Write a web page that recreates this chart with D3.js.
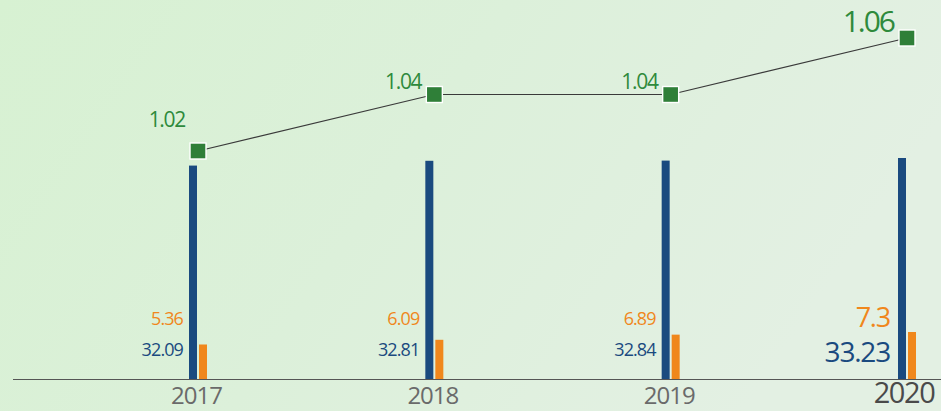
<!DOCTYPE html>
<html>
<head>
<meta charset="utf-8">
<script src="https://cdn.jsdelivr.net/npm/d3@7"></script>
<style>
html,body{margin:0;padding:0;background:#dcf0d8;}
svg{display:block;}
text{font-family:"Open Sans",sans-serif;}
</style>
</head>
<body>
<svg id="chart" width="941" height="411"></svg>
<script>
const years = ["2017", "2018", "2019", "2020"];
const blueValues = [32.09, 32.81, 32.84, 33.23];
const orangeValues = [5.36, 6.09, 6.89, 7.3];
const lineValues = [1.02, 1.04, 1.04, 1.06];
const blueLabels = ["32.09", "32.81", "32.84", "33.23"];
const orangeLabels = ["5.36", "6.09", "6.89", "7.3"];
const lineLabels = ["1.02", "1.04", "1.04", "1.06"];

const W = 941, H = 411;
const svg = d3.select("#chart");

const defs = svg.append("defs");
const g1 = defs.append("linearGradient").attr("id", "bg").attr("x1", "0").attr("y1", "0").attr("x2", "1").attr("y2", "0.3");
g1.append("stop").attr("offset", "0").attr("stop-color", "#d7f1d2");
g1.append("stop").attr("offset", "0.5").attr("stop-color", "#dcf0da");
g1.append("stop").attr("offset", "1").attr("stop-color", "#e3f0e3");
svg.append("rect").attr("width", W).attr("height", H).attr("fill", "url(#bg)");

const baseY = 379;
const x = d3.scalePoint().domain(years).range([198, 907]);
const yBlue = d3.scaleLinear().domain([0, 33.23]).range([baseY, 158]);
const yOrange = d3.scaleLinear().domain([0, 7.3]).range([baseY, 332]);
const yLine = d3.scaleLinear().domain([1.02, 1.06]).range([151, 38]);

const blue = "#1a4a7f", orange = "#f0871c", green = "#2f7f38", greenText = "#2e8a3c";
const last = years.length - 1;

// axis baseline
const axis = d3.axisBottom(x).tickSize(0).tickFormat("");
svg.append("g").attr("transform", `translate(0,${baseY})`).call(axis)
  .call(g => g.select(".domain").attr("d", `M13,0.5H${W}`).attr("stroke", "#555").attr("stroke-width", 1.2));

// bars
svg.selectAll("rect.blue").data(blueValues).join("rect")
  .attr("class", "blue")
  .attr("x", (d, i) => x(years[i]) - 9)
  .attr("width", 8)
  .attr("y", d => yBlue(d))
  .attr("height", d => baseY - yBlue(d))
  .attr("fill", blue);

svg.selectAll("rect.orange").data(orangeValues).join("rect")
  .attr("class", "orange")
  .attr("x", (d, i) => x(years[i]) + 1)
  .attr("width", 8)
  .attr("y", d => yOrange(d))
  .attr("height", d => baseY - yOrange(d))
  .attr("fill", orange);

// bar labels
svg.selectAll("text.bl").data(blueLabels).join("text")
  .attr("class", "bl")
  .attr("x", (d, i) => x(years[i]) - (i === last ? 17 : 15))
  .attr("y", (d, i) => i === last ? 361.5 : 356)
  .attr("text-anchor", "end")
  .attr("fill", blue)
  .attr("font-size", (d, i) => i === last ? 28 : 18)
  .attr("letter-spacing", (d, i) => i === last ? -1.2 : -0.9)
  .text(d => d);

svg.selectAll("text.ol").data(orangeLabels).join("text")
  .attr("class", "ol")
  .attr("x", (d, i) => x(years[i]) - (i === last ? 17 : 15))
  .attr("y", (d, i) => i === last ? 326.5 : 325)
  .attr("text-anchor", "end")
  .attr("fill", orange)
  .attr("font-size", (d, i) => i === last ? 27 : 18)
  .attr("letter-spacing", (d, i) => i === last ? -1.2 : -0.9)
  .text(d => d);

// line
const line = d3.line().x((d, i) => x(years[i])).y(d => yLine(d));
svg.append("path").datum(lineValues)
  .attr("d", line).attr("fill", "none").attr("stroke", "#3a3a3a").attr("stroke-width", 1.1);

svg.selectAll("rect.pt").data(lineValues).join("rect")
  .attr("class", "pt")
  .attr("x", (d, i) => x(years[i]) - 8)
  .attr("y", d => yLine(d) - 8)
  .attr("width", 16).attr("height", 16)
  .attr("fill", green).attr("stroke", "#ffffff").attr("stroke-width", 1.4);

svg.selectAll("text.ll").data(lineLabels).join("text")
  .attr("class", "ll")
  .attr("x", (d, i) => x(years[i]) - 13)
  .attr("y", (d, i) => yLine(lineValues[i]) - (i === 0 ? 24 : 6))
  .attr("text-anchor", "end")
  .attr("fill", greenText)
  .attr("font-size", (d, i) => i === last ? 30 : 21)
  .attr("letter-spacing", (d, i) => i === last ? -2 : -1.3)
  .text(d => d);

// year labels
svg.selectAll("text.yr").data(years).join("text")
  .attr("class", "yr")
  .attr("x", (d, i) => x(d) - (i === last ? 3 : 1.5))
  .attr("y", (d, i) => i === last ? 403 : 404)
  .attr("text-anchor", "middle")
  .attr("fill", (d, i) => i === last ? "#4a4a4a" : "#6a6a6a")
  .attr("font-size", (d, i) => i === last ? 29 : 24)
  .attr("letter-spacing", (d, i) => i === last ? -1.4 : -1)
  .text(d => d);
</script>
</body>
</html>
